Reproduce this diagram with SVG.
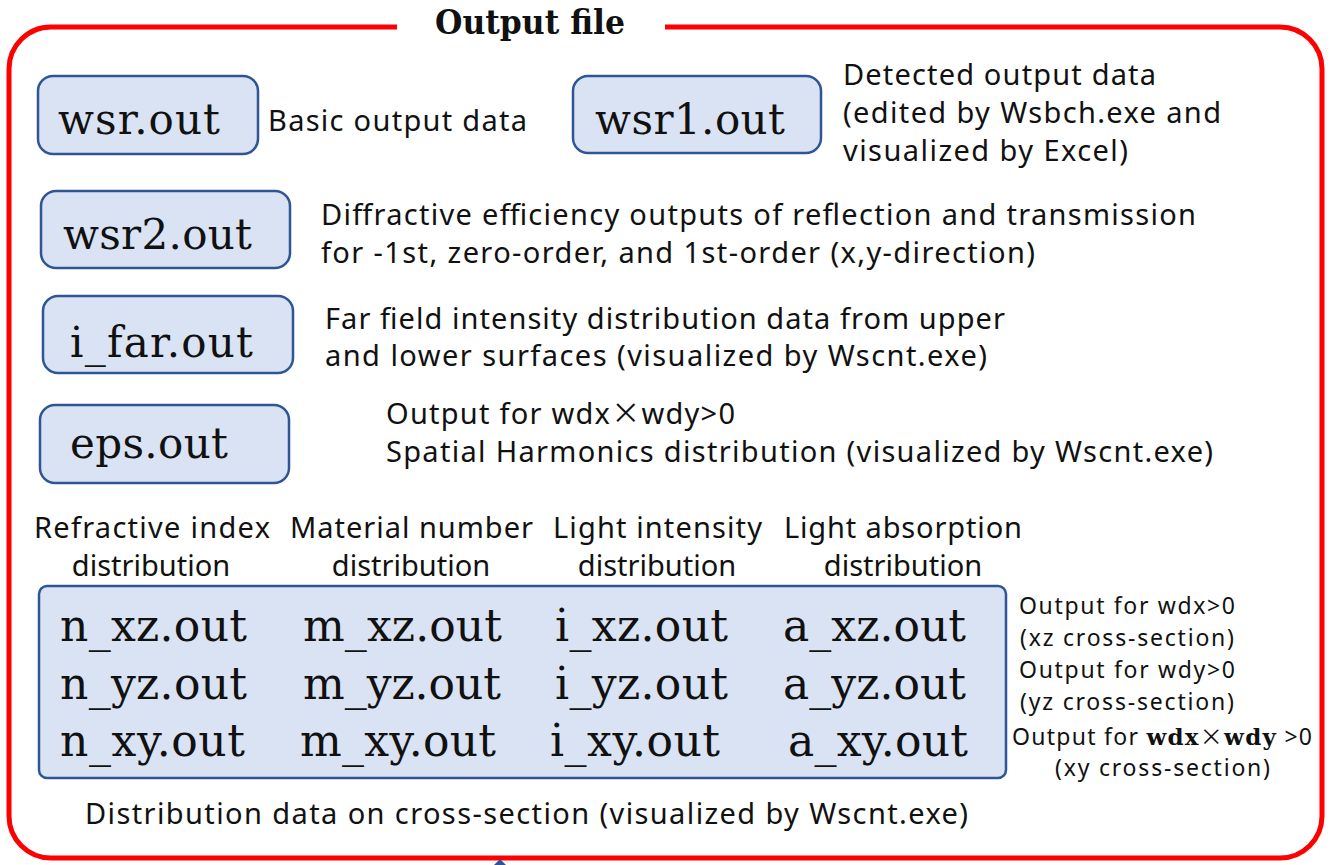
<svg xmlns="http://www.w3.org/2000/svg" width="1332" height="865" viewBox="0 0 1332 865">
<style>
.box{fill:#dae3f3;stroke:#2f5597;stroke-width:2.5}
.fn{font-family:"DejaVu Serif","Liberation Serif",serif;font-size:42px;fill:#111}
.gn{font-family:"DejaVu Serif","Liberation Serif",serif;font-size:44px;fill:#111}
.t{font-family:"Noto Sans","Open Sans","Liberation Sans",sans-serif;font-size:29px;fill:#111}
.s{font-family:"Noto Sans","Open Sans","Liberation Sans",sans-serif;font-size:23px;fill:#111}
.b{font-family:"DejaVu Serif","Liberation Serif",serif;font-weight:bold}
.x{font-family:"Noto Sans CJK JP",sans-serif}
</style>
<rect width="1332" height="865" fill="#fff"/>
<g id="frame">
<rect x="9" y="27" width="1313" height="831" rx="42" fill="none" stroke="#ff0000" stroke-width="5"/>
<rect x="397" y="15" width="268" height="25" fill="#fff"/>
<text x="435" y="34" font-family="DejaVu Serif,Liberation Serif,serif" font-size="34" font-weight="bold" textLength="190" lengthAdjust="spacingAndGlyphs" fill="#111">Output file</text>
</g>
<g id="connectors">
<polygon points="494,865 500,859 506,865" fill="#2f5597"/>
</g>
<g id="wsr">
<rect class="box" x="38" y="76" width="220" height="78" rx="15"/>
<text class="fn" x="58" y="134" textLength="162">wsr.out</text>
<text class="t" x="268" y="131" textLength="259">Basic output data</text>
</g>
<g id="wsr1">
<rect class="box" x="573" y="76" width="248" height="77" rx="15"/>
<text class="fn" x="595" y="134" textLength="190">wsr1.out</text>
<text class="t" x="843" y="85" textLength="313">Detected output data</text>
<text class="t" x="843" y="123" textLength="378">(edited by Wsbch.exe and</text>
<text class="t" x="843" y="161" textLength="285">visualized by Excel)</text>
</g>
<g id="wsr2">
<rect class="box" x="41" y="191" width="249" height="77" rx="15"/>
<text class="fn" x="63" y="249" textLength="189">wsr2.out</text>
<text class="t" x="321" y="225" textLength="875">Diffractive efficiency outputs of reflection and transmission</text>
<text class="t" x="321" y="263" textLength="714">for -1st, zero-order, and 1st-order (x,y-direction)</text>
</g>
<g id="i_far">
<rect class="box" x="43" y="296" width="250" height="77" rx="15"/>
<text class="fn" x="70" y="357" textLength="183">i_far.out</text>
<text class="t" x="325" y="329" textLength="680">Far field intensity distribution data from upper</text>
<text class="t" x="325" y="366" textLength="662">and lower surfaces (visualized by Wscnt.exe)</text>
</g>
<g id="eps">
<rect class="box" x="40" y="405" width="249" height="78" rx="15"/>
<text class="fn" x="70" y="458" textLength="158">eps.out</text>
<text class="t" x="386" y="424" textLength="349">Output for wdx<tspan class="x">×</tspan>wdy&gt;0</text>
<text class="t" x="386" y="462" textLength="827">Spatial Harmonics distribution (visualized by Wscnt.exe)</text>
</g>
<g id="headers">
<text class="t" x="34" y="538" textLength="236">Refractive index</text>
<text class="t" x="151" y="576" text-anchor="middle">distribution</text>
<text class="t" x="290" y="538" textLength="243">Material number</text>
<text class="t" x="411" y="576" text-anchor="middle">distribution</text>
<text class="t" x="553" y="538" textLength="209">Light intensity</text>
<text class="t" x="657" y="576" text-anchor="middle">distribution</text>
<text class="t" x="784" y="538" textLength="238">Light absorption</text>
<text class="t" x="903" y="576" text-anchor="middle">distribution</text>
</g>
<g id="distribution">
<rect class="box" x="39" y="586" width="967" height="192" rx="8"/>
<text class="gn" x="60" y="641" textLength="187">n_xz.out</text>
<text class="gn" x="303" y="641" textLength="199">m_xz.out</text>
<text class="gn" x="555" y="641" textLength="173">i_xz.out</text>
<text class="gn" x="783" y="641" textLength="183">a_xz.out</text>
<text class="gn" x="60" y="699" textLength="187">n_yz.out</text>
<text class="gn" x="303" y="699" textLength="198">m_yz.out</text>
<text class="gn" x="555" y="699" textLength="173">i_yz.out</text>
<text class="gn" x="783" y="699" textLength="183">a_yz.out</text>
<text class="gn" x="60" y="756" textLength="185">n_xy.out</text>
<text class="gn" x="300" y="756" textLength="196">m_xy.out</text>
<text class="gn" x="550" y="756" textLength="170">i_xy.out</text>
<text class="gn" x="788" y="756" textLength="180">a_xy.out</text>
</g>
<g id="notes">
<text class="s" x="1019" y="614" textLength="216">Output for wdx&gt;0</text>
<text class="s" x="1020" y="646" textLength="214">(xz cross-section)</text>
<text class="s" x="1019" y="678" textLength="216">Output for wdy&gt;0</text>
<text class="s" x="1020" y="710" textLength="214">(yz cross-section)</text>
<text class="s" x="1012" y="745" textLength="300">Output for <tspan class="b">wdx</tspan><tspan class="x">×</tspan><tspan class="b">wdy</tspan> &gt;0</text>
<text class="s" x="1055" y="776" textLength="215">(xy cross-section)</text>
</g>
<g id="caption">
<text class="t" x="85" y="824" textLength="883">Distribution data on cross-section (visualized by Wscnt.exe)</text>
</g>
</svg>
